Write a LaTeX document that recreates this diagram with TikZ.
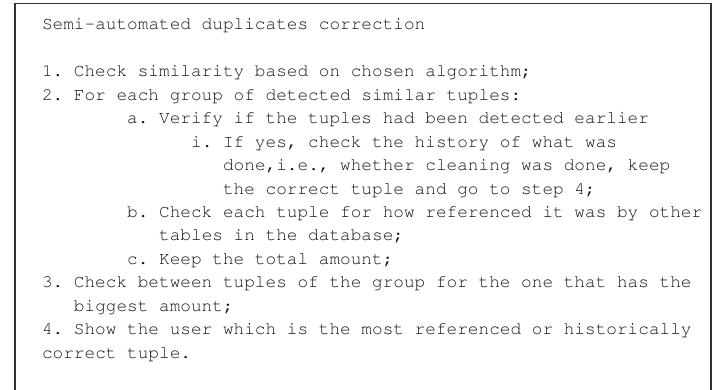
\documentclass[tikz,border=0pt]{standalone}
\usepackage[T1]{fontenc}
\frenchspacing
\begin{document}
\begin{tikzpicture}[x=1pt,y=-1pt,
  codeline/.style={anchor=base west,inner sep=0pt,outer sep=0pt,
    text=black!92,font=\fontencoding{T1}\fontfamily{pcr}\fontsize{17.75}{23.43}\selectfont\frenchspacing},
  frame/.style={draw=black!80,line width=1.6pt}]
  \def\xz{42}   % left edge of the character grid
  \def\cw{10.65}% width of one character cell
  \def\ls{23.43}% line step
  \def\yz{30}   % baseline of the first line
  \useasboundingbox (0,0) rectangle (718,390);
  \begin{scope}
    \clip (0,0) rectangle (718,390);
    \draw[frame] (15,3.5) rectangle (711,420);
  \end{scope}
  \node[codeline] (title) at (\xz,\yz) {Semi-automated duplicates correction};
  \node[codeline] (s1)  at (\xz,\yz+2*\ls) {1. Check similarity based on chosen algorithm;};
  \node[codeline] (s2)  at (\xz,\yz+3*\ls) {2. For each group of detected similar tuples:};
  \node[codeline] (s2a) at (\xz+8*\cw,\yz+4*\ls) {a. Verify if the tuples had been detected earlier};
  \node[codeline] (s2ai) at (\xz+14*\cw,\yz+5*\ls) {i. If yes, check the history of what was};
  \node[codeline] (s2aib) at (\xz+17*\cw,\yz+6*\ls) {done,i.e., whether cleaning was done, keep};
  \node[codeline] (s2aic) at (\xz+17*\cw,\yz+7*\ls) {the correct tuple and go to step 4;};
  \node[codeline] (s2b) at (\xz+8*\cw,\yz+8*\ls) {b. Check each tuple for how referenced it was by other};
  \node[codeline] (s2bb) at (\xz+11*\cw,\yz+9*\ls) {tables in the database;};
  \node[codeline] (s2c) at (\xz+8*\cw,\yz+10*\ls) {c. Keep the total amount;};
  \node[codeline] (s3)  at (\xz,\yz+11*\ls) {3. Check between tuples of the group for the one that has the};
  \node[codeline] (s3b) at (\xz+3*\cw,\yz+12*\ls) {biggest amount;};
  \node[codeline] (s4)  at (\xz,\yz+13*\ls) {4. Show the user which is the most referenced or historically};
  \node[codeline] (s4b) at (\xz,\yz+14*\ls) {correct tuple.};
\end{tikzpicture}
\end{document}
